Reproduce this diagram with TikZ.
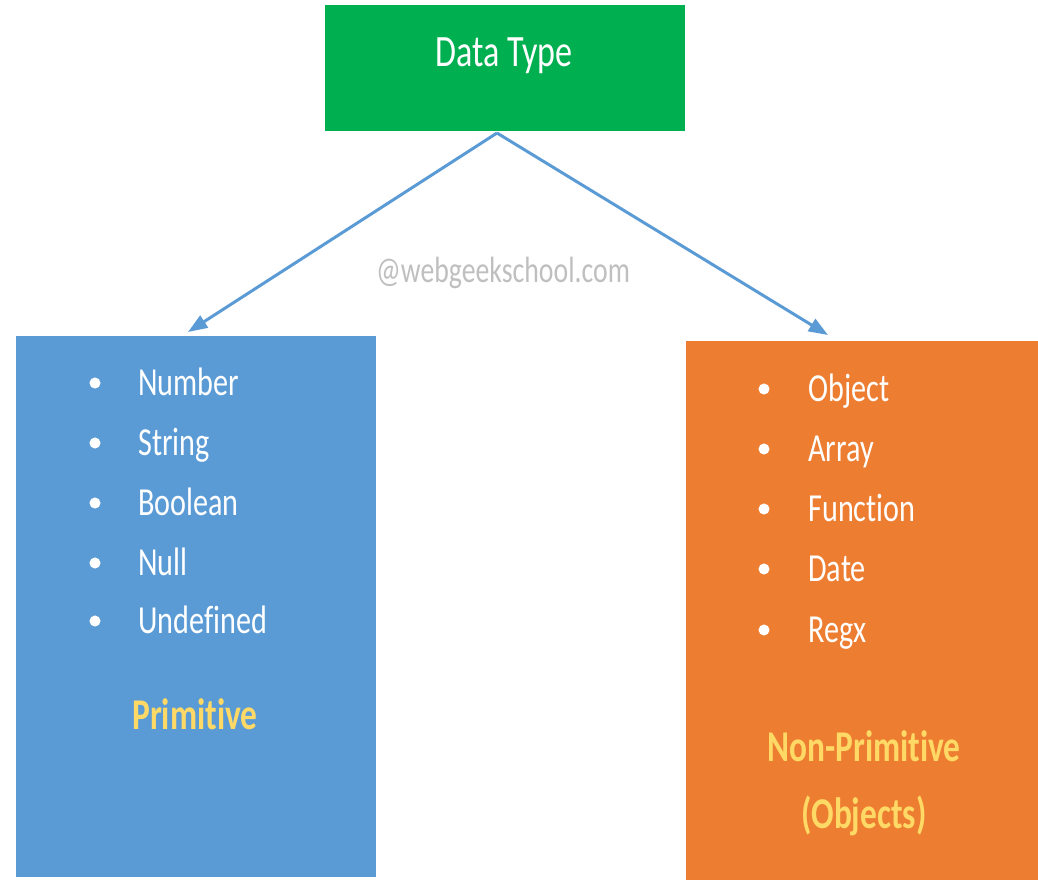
\documentclass[tikz,border=0pt]{standalone}
\usepackage{fontspec}
\setmainfont{Carlito}[FakeStretch=0.76, Ligatures=NoCommon]
\usetikzlibrary{arrows.meta}

\definecolor{dtgreen}{HTML}{00B050}
\definecolor{primblue}{HTML}{5B9BD5}
\definecolor{objorange}{HTML}{ED7D31}
\definecolor{kindyellow}{HTML}{FFD966}
\definecolor{markgray}{HTML}{BFBFBF}

\begin{document}
\begin{tikzpicture}[x=0.02cm, y=-0.02cm]
    \tikzset{%
      typebox/.style  = {draw=none, inner sep=0pt, anchor=north west},
      itemtext/.style = {anchor=base west, inner sep=0pt, text=white,
                         font=\fontsize{22.6}{27}\selectfont},
      kindtext/.style = {anchor=base, inner sep=0pt, text=kindyellow,
                         font=\fontsize{25}{29}\selectfont\bfseries},
      dot/.style      = {circle, fill=white, inner sep=0pt, minimum size=6.3pt},
      branch/.style   = {draw=primblue, line width=1.7pt,
                         -{Triangle[length=11pt, width=8pt]}}
    }
    \useasboundingbox (0,0) rectangle (1038,880);

    % the three boxes
    \node[typebox, fill=dtgreen, minimum width=7.2cm, minimum height=2.52cm]
      (dtype) at (325,5) {};
    \node[typebox, fill=primblue, minimum width=7.2cm, minimum height=10.82cm]
      (prim) at (16,336) {};
    \node[typebox, fill=objorange, minimum width=7.04cm, minimum height=10.78cm]
      (obj) at (686,341) {};

    \node[anchor=base, inner sep=0pt, text=white,
          font=\fontsize{25.5}{30}\selectfont] (dtlabel) at (504,66) {Data Type};

    % connectors
    \coordinate (fork) at (497,133);
    \coordinate (ptip) at (188,332);
    \coordinate (otip) at (828,335);
    \draw[branch] (fork) -- (ptip);
    \draw[branch] (fork) -- (otip);

    \node[anchor=base, inner sep=0pt, text=markgray,
          font=\fontsize{20.8}{25}\selectfont] (mark) at (503,282) {@webgeekschool.com};

    % primitive list
    \foreach \y/\name [count=\i] in {%
        395/Number, 455/String, 515/Boolean, 575/Null, 633/Undefined%
    }{
      \node[dot] (pdot\i) at (95,{\y-12}) {};
      \node[itemtext] (pitem\i) at (138,\y) {\name};
    }
    \node[kindtext] (primlabel) at (195,729) {Primitive};

    % non-primitive list
    \foreach \y/\name [count=\i] in {%
        401/Object, 461/Array, 521/Function, 581/Date, 642/Regx%
    }{
      \node[dot] (odot\i) at (764,{\y-12}) {};
      \node[itemtext] (oitem\i) at (808,\y) {\name};
    }
    \node[kindtext] (objlabel)  at (864,761) {Non-Primitive};
    \node[kindtext] (objlabel2) at (864,828) {(Objects)};
\end{tikzpicture}
\end{document}
